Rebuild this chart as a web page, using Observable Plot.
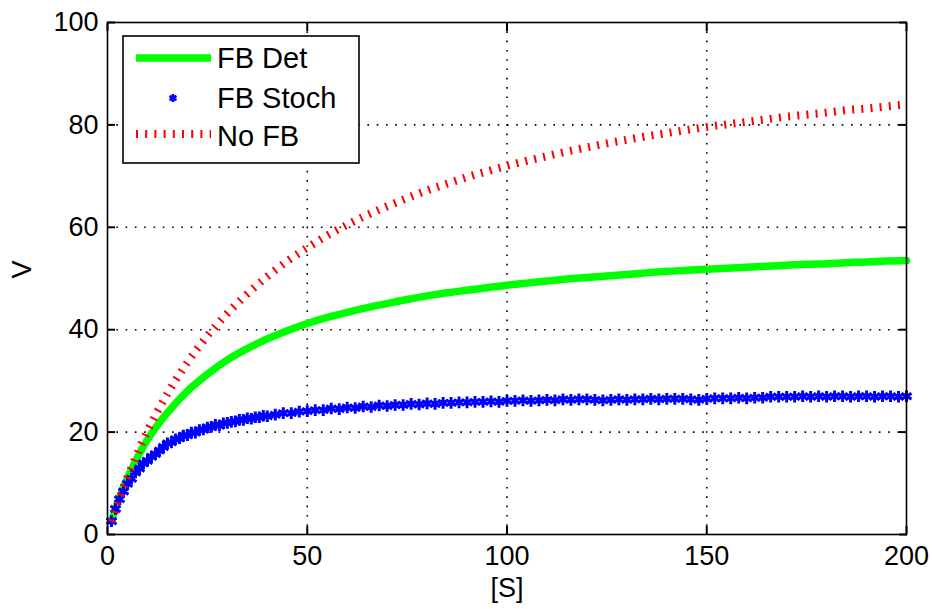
<!DOCTYPE html>
<html>
<head>
<meta charset="utf-8">
<script src="https://cdn.jsdelivr.net/npm/d3@7"></script>
<script src="https://cdn.jsdelivr.net/npm/@observablehq/plot@0.6"></script>
<style>
  html, body { margin: 0; padding: 0; background: #fff; }
  #chart { position: relative; width: 932px; height: 609px; }
  #legend { position: absolute; left: 122px; top: 35px; }
</style>
</head>
<body>
<div id="chart"></div>
<script>
// Axis ticks
const xTicks = [0, 50, 100, 150, 200];
const yTicks = [0, 20, 40, 60, 80, 100];

// Series names
const seriesNames = ["FB Det", "FB Stoch", "No FB"];

// Substrate concentrations for the deterministic curves
const sCurve = [1, 2, 3, 4, 5, 6, 8, 10, 12, 15,
  20, 25, 30, 35, 40, 45, 50, 55, 60, 65, 70, 75, 80, 85, 90, 95, 100,
  105, 110, 115, 120, 125, 130, 135, 140, 145, 150, 155, 160, 165, 170,
  175, 180, 185, 190, 195, 200];

// Rate with feedback (deterministic)
const vDet = [2.6, 5.0, 7.2, 9.2, 11.0, 12.7, 15.8, 18.5, 20.8, 23.8,
  28.0, 31.3, 34.1, 36.3, 38.2, 39.8, 41.2, 42.4, 43.4, 44.3, 45.1, 45.9, 46.6, 47.2, 47.7, 48.2, 48.7,
  49.1, 49.5, 49.9, 50.2, 50.5, 50.8, 51.1, 51.4, 51.6, 51.8, 52.0, 52.2, 52.4, 52.6,
  52.8, 52.9, 53.1, 53.2, 53.4, 53.5];

// Rate without feedback
const vNoFb = [2.5, 4.8, 7.0, 9.2, 11.2, 13.1, 16.8, 20.2, 23.3, 27.5,
  33.6, 38.8, 43.2, 47.0, 50.4, 53.4, 56.0, 58.4, 60.5, 62.4, 64.1, 65.7, 67.2, 68.5, 69.8, 70.9, 72.0,
  73.0, 73.9, 74.8, 75.6, 76.4, 77.1, 77.8, 78.4, 79.0, 79.6, 80.1, 80.6, 81.1, 81.6,
  82.0, 82.4, 82.9, 83.2, 83.6, 84.0];

// Substrate concentrations for the stochastic simulation
const sStoch = [1, 2, 3, 4, 5, 6, 7, 8, 9, 10, 11, 12, 13, 14, 15, 16, 17, 18, 19, 20,
  21, 22, 23, 24, 25, 26, 27, 28, 29, 30, 31, 32, 33, 34, 35, 36, 37, 38, 39, 40,
  42, 44, 46, 48, 50, 52, 54, 56, 58, 60, 62, 64, 66, 68, 70, 72, 74, 76, 78, 80,
  82, 84, 86, 88, 90, 92, 94, 96, 98, 100, 102, 104, 106, 108, 110, 112, 114, 116, 118, 120,
  122, 124, 126, 128, 130, 132, 134, 136, 138, 140, 142, 144, 146, 148, 150, 152, 154, 156, 158, 160,
  162, 164, 166, 168, 170, 172, 174, 176, 178, 180, 182, 184, 186, 188, 190, 192, 194, 196, 198, 200];

// Rate with feedback (stochastic)
const vStoch = [2.6, 5.0, 6.9, 8.4, 9.9, 10.9, 12.1, 12.9, 13.9, 14.4, 15.2, 15.7, 16.4, 17.1, 17.8, 18.0, 18.6, 18.8, 19.3, 19.4,
  19.9, 19.9, 20.4, 20.5, 20.9, 21.0, 21.4, 21.3, 21.7, 21.8, 22.0, 22.1, 22.4, 22.4, 22.7, 22.6, 22.9, 22.9, 23.2, 23.1,
  23.4, 23.7, 23.7, 24.0, 24.1, 24.3, 24.3, 24.6, 24.5, 24.8, 24.7, 25.0, 24.9, 25.2, 25.1, 25.3, 25.3, 25.5, 25.4, 25.6,
  25.5, 25.7, 25.7, 25.8, 25.8, 25.9, 25.9, 26.0, 25.9, 26.1, 26.1, 26.2, 26.1, 26.2, 26.3, 26.2, 26.4, 26.3, 26.4, 26.4,
  26.3, 26.2, 26.3, 26.4, 26.3, 26.4, 26.4, 26.5, 26.4, 26.5, 26.5, 26.5, 26.4, 26.3, 26.5, 26.6, 26.6, 26.6, 26.7, 26.6,
  26.7, 26.7, 26.9, 26.9, 26.9, 26.9, 27.0, 26.9, 27.0, 26.9, 27.0, 27.0, 26.9, 27.0, 27.0, 26.9, 27.0, 27.0, 26.9, 27.0];

const colors = { det: "#00ff00", stoch: "#0000ff", noFb: "#ff0000" };
const font = "'Liberation Sans', Arial, Helvetica, sans-serif";

const det = sCurve.map((s, i) => ({ s, v: vDet[i] }));
const noFb = sCurve.map((s, i) => ({ s, v: vNoFb[i] }));
const stoch = sStoch.map((s, i) => ({ s, v: vStoch[i] }));

const dotted = { stroke: "#000", strokeOpacity: 1, strokeWidth: 1.6, strokeDasharray: "1.6,7.7" };
const inward = { tickFormat: () => "", label: null, strokeWidth: 2 };

const chart = Plot.plot({
  width: 932,
  height: 609,
  marginLeft: 107,
  marginRight: 26,
  marginTop: 22,
  marginBottom: 75,
  style: { fontFamily: font, fontSize: "27px", background: "#fff", color: "#000", overflow: "visible" },
  x: { domain: [0, 200] },
  y: { domain: [0, 100] },
  marks: [
    Plot.gridX(xTicks.slice(1, -1), dotted),
    Plot.gridY(yTicks.slice(1, -1), dotted),
    // tick labels
    Plot.axisX(xTicks, { anchor: "bottom", tickSize: 0, tickPadding: 11, label: null, fontSize: 27 }),
    Plot.axisY(yTicks, { anchor: "left", tickSize: 0, tickPadding: 9, label: null, fontSize: 27 }),
    // inward ticks on all four sides
    Plot.axisX(xTicks, { anchor: "bottom", tickSize: 8, dy: -8, ...inward }),
    Plot.axisX(xTicks, { anchor: "top", tickSize: 8, dy: 8, ...inward }),
    Plot.axisY(yTicks, { anchor: "left", tickSize: 8, dx: 8, ...inward }),
    Plot.axisY(yTicks, { anchor: "right", tickSize: 8, dx: -8, ...inward }),
    // curves
    Plot.line(det, { x: "s", y: "v", stroke: colors.det, strokeWidth: 7.5, curve: "monotone-x" }),
    Plot.dot(stoch, { x: "s", y: "v", symbol: "asterisk", r: 5.5, stroke: colors.stoch, strokeWidth: 3 }),
    Plot.line(noFb, { x: "s", y: "v", stroke: colors.noFb, strokeWidth: 8, strokeDasharray: "2,7.2",
      strokeLinecap: "butt", curve: "monotone-x" }),
    Plot.frame({ stroke: "#000", strokeWidth: 1.6 }),
    // axis titles
    Plot.text(["[S]"], { frameAnchor: "bottom", dy: 62, text: d => d, fontSize: 27 }),
    Plot.text(["V"], { frameAnchor: "left", dx: -85, rotate: -90, text: d => d, fontSize: 27 })
  ]
});

const container = document.getElementById("chart");
container.appendChild(chart);

// Legend box inside the axes
const lw = 236, lh = 127;
const legend = d3.create("svg")
  .attr("id", "legend")
  .attr("width", lw + 2)
  .attr("height", lh + 2)
  .style("font-family", font)
  .style("font-size", "29px");
legend.append("rect")
  .attr("x", 1).attr("y", 1).attr("width", lw).attr("height", lh)
  .attr("fill", "#fff").attr("stroke", "#000").attr("stroke-width", 1.6);

const rows = [23, 63, 101];
legend.append("line")
  .attr("x1", 14).attr("x2", 89).attr("y1", rows[0]).attr("y2", rows[0])
  .attr("stroke", colors.det).attr("stroke-width", 7.5);
legend.append("path")
  .attr("transform", `translate(51,${rows[1]})`)
  .attr("d", d3.symbol(d3.symbolAsterisk, 45)())
  .attr("fill", "none").attr("stroke", colors.stoch).attr("stroke-width", 2.6);
legend.append("line")
  .attr("x1", 14).attr("x2", 89).attr("y1", rows[2] - 2).attr("y2", rows[2] - 2)
  .attr("stroke", colors.noFb).attr("stroke-width", 8).attr("stroke-dasharray", "2,7.2");

legend.selectAll("text.name")
  .data(seriesNames)
  .join("text")
  .attr("class", "name")
  .attr("x", 95)
  .attr("y", (d, i) => rows[i])
  .attr("dy", "0.36em")
  .attr("fill", "#000")
  .text(d => d);

container.appendChild(legend.node());
</script>
</body>
</html>
